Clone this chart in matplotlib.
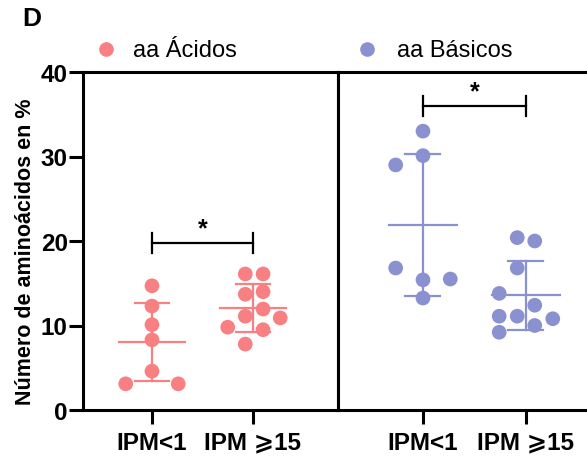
import numpy as np
import matplotlib
matplotlib.use("Agg")
import matplotlib.pyplot as plt

plt.rcParams['font.family'] = ['Liberation Sans', 'DejaVu Sans']

# ---- data ----
groups = ["IPM<1", "IPM \u2A7E15"]
acidos_ipm1 = [14.7, 12.3, 10.1, 8.3, 4.6, 3.1, 3.1]
acidos_ipm15 = [16.1, 16.1, 13.7, 14.0, 11.95, 11.1, 10.9, 9.8, 9.5, 7.8]
basicos_ipm1 = [33.0, 30.1, 29.0, 16.8, 15.4, 15.5, 13.25]
basicos_ipm15 = [20.4, 20.0, 16.8, 13.8, 12.4, 11.1, 11.1, 10.8, 10.0, 9.2]
yticks = [0, 10, 20, 30, 40]
legend_labels = ["aa \u00C1cidos", "aa B\u00E1sicos"]

# swarm offsets (layout)
off_a1 = [0, 0, 0, 0, 0, -0.26, 0.26]
off_a2 = [-0.076, 0.1, -0.076, 0.1, 0.1, -0.076, 0.27, -0.25, 0.1, -0.076]
off_b1 = [0, 0, -0.265, -0.265, 0, 0.265, 0]
off_b2 = [-0.085, 0.085, -0.085, -0.26, 0.085, -0.26, -0.085, 0.26, 0.085, -0.26]

pink = "#F88082"
blue = "#8A91D0"

W, H = 587, 460
fig = plt.figure(figsize=(W / 100, H / 100), dpi=100)

def rect(x0, x1, y0, y1):
    return [x0 / W, 1 - y1 / H, (x1 - x0) / W, (y1 - y0) / H]

axL = fig.add_axes(rect(83, 338, 73, 411))
axR = fig.add_axes(rect(338, 595, 73, 411))

def draw_group(ax, xc, vals, offs, color):
    vals = np.asarray(vals)
    xs = xc + np.asarray(offs)
    ax.scatter(xs, vals, s=112, color=color, edgecolor='none', zorder=3, clip_on=False)
    m = vals.mean()
    sd = vals.std(ddof=1)
    ax.plot([xc - 0.33, xc + 0.33], [m, m], color=color, lw=1.6, zorder=4)
    ax.plot([xc, xc], [m - sd, m + sd], color=color, lw=1.6, zorder=4)
    for yy in (m - sd, m + sd):
        ax.plot([xc - 0.17, xc + 0.17], [yy, yy], color=color, lw=1.6, zorder=4)

def sig(ax, x0, x1, y, h):
    ax.plot([x0, x1], [y, y], color='black', lw=1.6)
    for xx in (x0, x1):
        ax.plot([xx, xx], [y - h, y + h], color='black', lw=1.6)
    ax.text((x0 + x1) / 2, y + 0.3, "*", ha='center', va='bottom',
            fontsize=18, fontweight='bold')

draw_group(axL, 0, acidos_ipm1, off_a1, pink)
draw_group(axL, 1, acidos_ipm15, off_a2, pink)
draw_group(axR, 0, basicos_ipm1, off_b1, blue)
draw_group(axR, 1, basicos_ipm15, off_b2, blue)

sig(axL, 0, 1, 19.8, 1.2)
sig(axR, 0, 1, 36.0, 1.2)

axL.set_xlim(-0.683, 1.842)
axR.set_xlim(-0.825, 1.67)
for ax in (axL, axR):
    ax.set_ylim(0, 40)
    ax.set_xticks([0, 1])
    ax.set_xticklabels(groups, fontsize=17.5, fontweight='bold')
    for s in ax.spines.values():
        s.set_linewidth(2.2)
    ax.tick_params(axis='x', length=10, width=2.2, pad=5)

axL.set_yticks(yticks)
axL.set_yticklabels([str(v) for v in yticks], fontsize=17.5, fontweight='bold')
axL.tick_params(axis='y', length=10, width=2.2, pad=1)
axR.set_yticks([])

fig.text(26 / W, 1 - 252 / H, "N\u00FAmero de amino\u00E1cidos en %", rotation=90,
         ha='center', va='center', fontsize=15.5, fontweight='bold')
fig.text(22 / W, 1 - 19 / H, "D", ha='left', va='center', fontsize=19, fontweight='bold')

# legend
for mx, tx, lab, col in [(106, 133, legend_labels[0], pink), (367, 397, legend_labels[1], blue)]:
    fig.add_artist(plt.Line2D([mx / W], [1 - 50 / H], marker='o', markersize=9.5,
                              color=col, linestyle='none'))
    fig.text(tx / W, 1 - 51 / H, lab, ha='left', va='center', fontsize=17)

fig.savefig("out.png", dpi=100)
